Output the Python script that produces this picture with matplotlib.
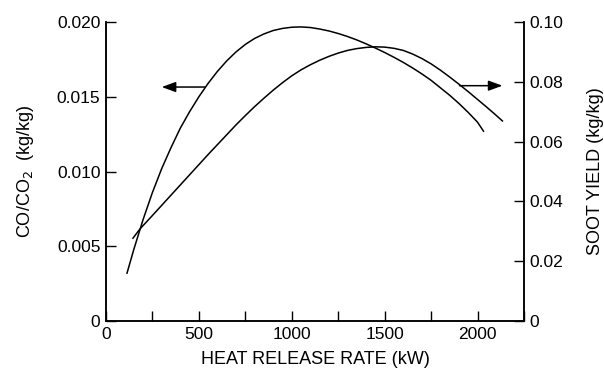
"""CO/CO2 ratio and soot yield versus heat release rate (two y axes)."""

import matplotlib
matplotlib.use("Agg")
import matplotlib.pyplot as plt
from matplotlib.ticker import MultipleLocator

plt.rcParams["font.family"] = ["Liberation Sans", "DejaVu Sans"]

# CO/CO2 curve (left axis)
hrr_co = [113, 150, 200, 250, 300, 350, 400, 450, 500, 550, 600, 650, 700,
          750, 800, 850, 900, 950, 1000, 1050, 1100, 1150, 1200, 1250, 1300,
          1350, 1400, 1450, 1500, 1550, 1600, 1650, 1700, 1750, 1800, 1850,
          1900, 1950, 2000, 2032]
co_co2 = [0.0032, 0.0048, 0.0068, 0.0086, 0.0102, 0.0116, 0.0129, 0.0140,
          0.0150, 0.0159, 0.0167, 0.0174, 0.0180, 0.0185, 0.0189, 0.0192,
          0.01943, 0.01957, 0.01965, 0.01967, 0.01963, 0.01953, 0.0194,
          0.01923, 0.01903, 0.0188, 0.01854, 0.01826, 0.01796, 0.01764,
          0.0173, 0.01693, 0.01653, 0.0161, 0.0156, 0.0151, 0.01455,
          0.01395, 0.0133, 0.0127]

# soot yield curve (right axis)
hrr_soot = [145, 183, 250, 300, 350, 400, 450, 500, 550, 600, 650, 700, 750,
            800, 850, 900, 950, 1000, 1050, 1100, 1150, 1200, 1250, 1300,
            1350, 1400, 1450, 1500, 1550, 1600, 1650, 1700, 1750, 1800, 1850,
            1900, 1950, 2000, 2050, 2100, 2134]
soot = [0.0277, 0.0308, 0.0353, 0.0387, 0.0421, 0.0455, 0.0489, 0.0523,
        0.0557, 0.0590, 0.0623, 0.0656, 0.0687, 0.0717, 0.0745, 0.0772,
        0.0797, 0.0820, 0.0840, 0.0857, 0.0872, 0.0885, 0.0896, 0.0905,
        0.0911, 0.0915, 0.0917, 0.0916, 0.0912, 0.0905, 0.0893, 0.0878,
        0.0860, 0.0839, 0.0816, 0.0792, 0.0767, 0.0741, 0.0715, 0.0688,
        0.0669]

# arrows: (start x, end x, y)
arrow_co = (532, 300, 0.01565)
arrow_soot = (1903, 2134, 0.0787)

fig = plt.figure(figsize=(6.04, 3.69), dpi=100)
ax = fig.add_axes([0.1755, 0.130, 0.692, 0.8104])
ax2 = ax.twinx()

ax.plot(hrr_co, co_co2, color="black", lw=1.1)
ax2.plot(hrr_soot, soot, color="black", lw=1.1)

arrow_kw = dict(arrowstyle="-|>,head_length=0.6,head_width=0.22",
                color="black", lw=1.1, mutation_scale=14,
                shrinkA=0, shrinkB=0)
ax.annotate("", xy=(arrow_co[1], arrow_co[2]), xytext=(arrow_co[0], arrow_co[2]),
            arrowprops=arrow_kw)
ax2.annotate("", xy=(arrow_soot[1], arrow_soot[2]),
             xytext=(arrow_soot[0], arrow_soot[2]), arrowprops=arrow_kw)

ax.set_xlim(0, 2250)
ax.set_ylim(0, 0.020)
ax2.set_ylim(0, 0.10)

ax.xaxis.set_major_locator(MultipleLocator(500))
ax.xaxis.set_minor_locator(MultipleLocator(250))
ax.set_xticks([0, 500, 1000, 1500, 2000])
ax.set_xticklabels(["0", "500", "1000", "1500", "2000"])
ax.set_yticks([0, 0.005, 0.010, 0.015, 0.020])
ax.set_yticklabels(["0", "0.005", "0.010", "0.015", "0.020"])
ax2.set_yticks([0, 0.02, 0.04, 0.06, 0.08, 0.10])
ax2.set_yticklabels(["0", "0.02", "0.04", "0.06", "0.08", "0.10"])

for a in (ax, ax2):
    a.spines["top"].set_visible(False)
    for s in a.spines.values():
        s.set_linewidth(1.1)
    a.tick_params(which="both", direction="in", length=7, width=1.0,
                  labelsize=12.5, pad=4)
ax.tick_params(axis="x", which="both", top=False, pad=4)

ax.set_xlabel("HEAT RELEASE RATE (kW)", fontsize=13, labelpad=7)
ax.set_ylabel("CO/CO$_2$  (kg/kg)", fontsize=13, labelpad=15)
ax2.set_ylabel("SOOT YIELD (kg/kg)", fontsize=13, labelpad=17)

fig.savefig("out.png", dpi=100)
